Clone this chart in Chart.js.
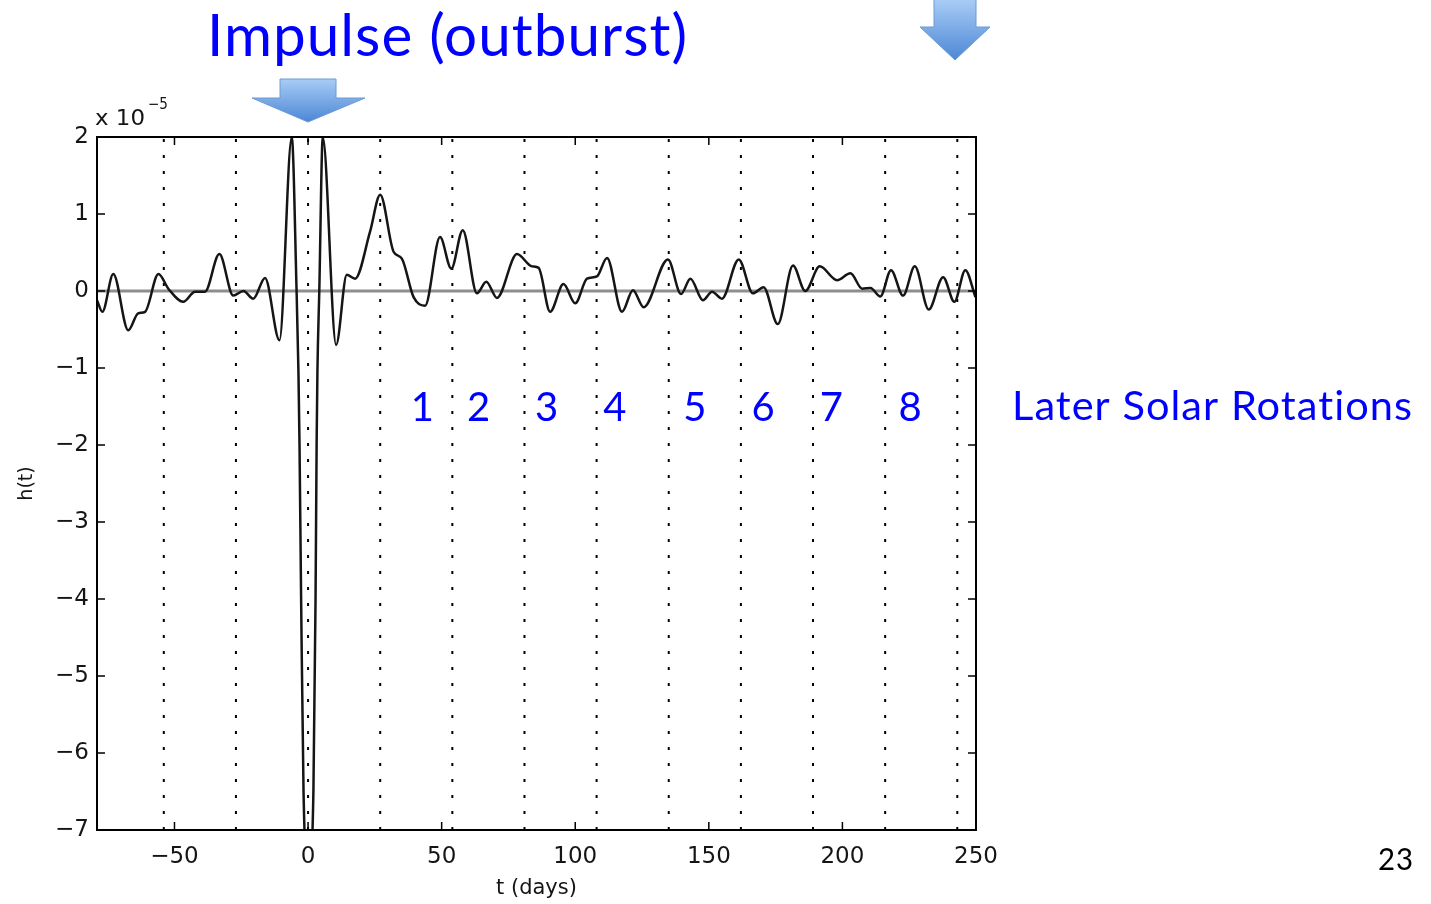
<!DOCTYPE html>
<html>
<head>
<meta charset="utf-8">
<title>Impulse response h(t)</title>
<script src="https://cdn.jsdelivr.net/npm/chart.js@4"></script>
<style>
    html, body {
        margin: 0;
        padding: 0;
        background: #ffffff;
    }
    #wrap {
        position: relative;
        width: 1431px;
        height: 904px;
    }
</style>
</head>
<body>
<div id="wrap">
    <canvas id="impulseChart" width="1431" height="904"></canvas>
</div>

<script>
/* =========================
   DATA
========================= */

// time in days, h(t) in units of 1e-5
const tDays = [
    -79, -77, -72.9, -67.3, -63.6, -61, -56, -52.3, -46.7, -42.3, -38.6, -33.2,
    -28, -24.2, -20.5, -16.1, -10.7, -6.1, -4.3, -3.6, -3.2, -2.6, -1.7, 0.2,
    2, 2.8, 3.2, 3.5, 4.2, 5.5, 10.5, 14.5, 17.6, 23.2, 27, 32, 35.1, 39.5,
    43.8, 49.4, 53.6, 57.9, 63.2, 66.7, 70.7, 78.2, 83.8, 86.3, 90.6, 95.6,
    100, 104.4, 108.1, 111.9, 117.5, 121.6, 125.6, 134.7, 139.6, 143.1, 147.8,
    151.2, 154.9, 161.2, 166.5, 170.5, 175.8, 181.5, 186.1, 191.5, 198, 203,
    207.4, 210.5, 214.2, 218.2, 222.7, 227.1, 232.3, 237.7, 241.9, 246, 249.8
];

const hValues = [
    -0.12, -0.27, 0.22, -0.51, -0.29, -0.27, 0.22, 0.03, -0.14, -0.01, -0.01, 0.48,
    -0.06, 0, -0.10, 0.17, -0.64, 2.0, 0, -1.05, -2, -4, -6.5, -7.6,
    -6.5, -4, -2, -1.05, 0, 2.0, -0.70, 0.21, 0.16, 0.77, 1.25, 0.51, 0.42, -0.08,
    -0.19, 0.70, 0.29, 0.79, -0.03, 0.12, -0.09, 0.48, 0.32, 0.30, -0.27, 0.09,
    -0.16, 0.16, 0.19, 0.43, -0.27, 0.01, -0.21, 0.41, -0.04, 0.16, -0.12,
    -0.01, -0.10, 0.41, -0.03, 0.05, -0.43, 0.33, 0, 0.32, 0.14, 0.23,
    0.03, 0.04, -0.07, 0.27, -0.06, 0.32, -0.24, 0.18, -0.14, 0.27, -0.08
];

// solar rotation marks (~27 days apart)
const rotationDays = [-54, -27, 0, 27, 54, 81, 108, 135, 162, 189, 216, 243];

const rotationLabels = ["1", "2", "3", "4", "5", "6", "7", "8"];

const xTicks = [-50, 0, 50, 100, 150, 200, 250];
const yTicks = [2, 1, 0, -1, -2, -3, -4, -5, -6, -7];

const xRange = [-79, 250];
const yRange = [-7, 2];

/* =========================
   DATASETS
========================= */

const curvePoints = tDays.map((t, i) => ({ x: t, y: hValues[i] }));

const datasets = [{
    label: "h(t)",
    data: curvePoints,
    borderColor: "#151515",
    borderWidth: 2.5,
    pointRadius: 0,
    cubicInterpolationMode: "monotone",
    order: 1
}, {
    label: "zero",
    data: [{ x: xRange[0], y: 0 }, { x: xRange[1], y: 0 }],
    borderColor: "#8e8e8e",
    borderWidth: 3,
    pointRadius: 0,
    order: 3
}];

rotationDays.forEach(d => {
    datasets.push({
        label: "rot " + d,
        data: [{ x: d, y: yRange[0] }, { x: d, y: yRange[1] }],
        borderColor: "#000000",
        borderWidth: 2,
        borderDash: [3, 13],
        pointRadius: 0,
        order: 2
    });
});

/* =========================
   FRAME + ANNOTATIONS
========================= */

const axisFamily = "'DejaVu Sans', 'Liberation Sans', Arial, sans-serif";
const slideFamily = "Lato, 'Open Sans', sans-serif";

function drawArrow(ctx, pts, top, bottom) {
    const g = ctx.createLinearGradient(0, top, 0, bottom);
    g.addColorStop(0, "#a8ccf6");
    g.addColorStop(1, "#4c87d4");
    ctx.beginPath();
    pts.forEach((p, i) => i ? ctx.lineTo(p[0], p[1]) : ctx.moveTo(p[0], p[1]));
    ctx.closePath();
    ctx.fillStyle = g;
    ctx.fill();
    ctx.strokeStyle = "#6d9ad6";
    ctx.lineWidth = 1;
    ctx.stroke();
}

function fitText(ctx, text, left, baseline, width) {
    const w = ctx.measureText(text).width;
    ctx.save();
    ctx.translate(left, baseline);
    ctx.scale(width / w, 1);
    ctx.textAlign = "left";
    ctx.fillText(text, 0, 0);
    ctx.restore();
}

const framePlugin = {
    id: "frame",
    afterDraw(chart) {
        const { ctx, chartArea: a, scales } = chart;
        ctx.save();

        // inner tick marks on all four sides
        ctx.strokeStyle = "#000";
        ctx.lineWidth = 1.5;
        ctx.beginPath();
        xTicks.forEach(v => {
            const px = scales.x.getPixelForValue(v);
            ctx.moveTo(px, a.bottom); ctx.lineTo(px, a.bottom - 8);
            ctx.moveTo(px, a.top); ctx.lineTo(px, a.top + 8);
        });
        yTicks.forEach(v => {
            const py = scales.y.getPixelForValue(v);
            ctx.moveTo(a.left, py); ctx.lineTo(a.left + 8, py);
            ctx.moveTo(a.right, py); ctx.lineTo(a.right - 8, py);
        });
        ctx.stroke();

        // box
        ctx.lineWidth = 2;
        ctx.strokeRect(a.left, a.top, a.right - a.left, a.bottom - a.top);

        // exponent label
        ctx.fillStyle = "#151515";
        ctx.textBaseline = "alphabetic";
        ctx.font = "22px " + axisFamily;
        ctx.textAlign = "left";
        fitText(ctx, "x 10", 95, 125, 50);
        ctx.font = "15px " + axisFamily;
        fitText(ctx, "\u22125", 148, 109, 20);

        // arrows
        drawArrow(ctx, [[280, 79], [336, 79], [336, 98], [365, 98], [308, 122], [252, 98], [280, 98]], 79, 122);
        drawArrow(ctx, [[934, -2], [976, -2], [976, 27], [990, 27], [955, 60], [920, 27], [934, 27]], 0, 60);

        // blue annotation text
        ctx.fillStyle = "#0000ff";
        ctx.letterSpacing = "1px";
        ctx.font = "58px " + slideFamily;
        fitText(ctx, "Impulse (outburst)", 207, 56, 481);

        ctx.font = "40px " + slideFamily;
        ctx.textAlign = "center";
        const labelDays = [43, 64, 89.5, 115, 145, 170.5, 196, 225.5];
        rotationLabels.forEach((s, i) => {
            ctx.fillText(s, scales.x.getPixelForValue(labelDays[i]), 421);
        });
        fitText(ctx, "Later Solar Rotations", 1012, 420, 401);

        // slide number
        ctx.fillStyle = "#000";
        ctx.font = "31px " + slideFamily;
        fitText(ctx, "23", 1378, 870, 36);

        ctx.restore();
    }
};

/* =========================
   CHART
========================= */

const tickFont = { family: axisFamily, size: 23 };

new Chart(document.getElementById("impulseChart"), {

    type: "line",

    data: { datasets: datasets },

    options: {
        responsive: false,
        animation: false,
        devicePixelRatio: 1,

        layout: {
            padding: { left: 0, top: 137, right: 455, bottom: 0 }
        },

        plugins: {
            legend: { display: false },
            tooltip: { enabled: false }
        },

        scales: {

            x: {
                type: "linear",
                min: xRange[0],
                max: xRange[1],
                afterBuildTicks: s => { s.ticks = xTicks.map(v => ({ value: v })); },
                afterFit: s => { s.height = 74; },
                grid: { display: false, drawTicks: false },
                border: { display: false },
                ticks: {
                    color: "#151515",
                    font: tickFont,
                    padding: 13,
                    maxRotation: 0,
                    callback: v => v < 0 ? "\u2212" + Math.abs(v) : String(v)
                },
                title: {
                    display: true,
                    text: "t (days)",
                    color: "#151515",
                    font: { family: axisFamily, size: 21 },
                    padding: { top: 0, bottom: 3 }
                }
            },

            y: {
                min: yRange[0],
                max: yRange[1],
                afterBuildTicks: s => { s.ticks = yTicks.map(v => ({ value: v })); },
                afterFit: s => { s.width = 97; },
                grid: { display: false, drawTicks: false },
                border: { display: false },
                ticks: {
                    color: "#151515",
                    font: tickFont,
                    padding: 8,
                    callback: v => v < 0 ? "\u2212" + Math.abs(v) : String(v)
                },
                title: {
                    display: true,
                    text: "h(t)",
                    color: "#151515",
                    font: { family: axisFamily, size: 19 },
                    padding: { top: 16, bottom: 0 }
                }
            }
        }
    },

    plugins: [framePlugin]
});
</script>
</body>
</html>
